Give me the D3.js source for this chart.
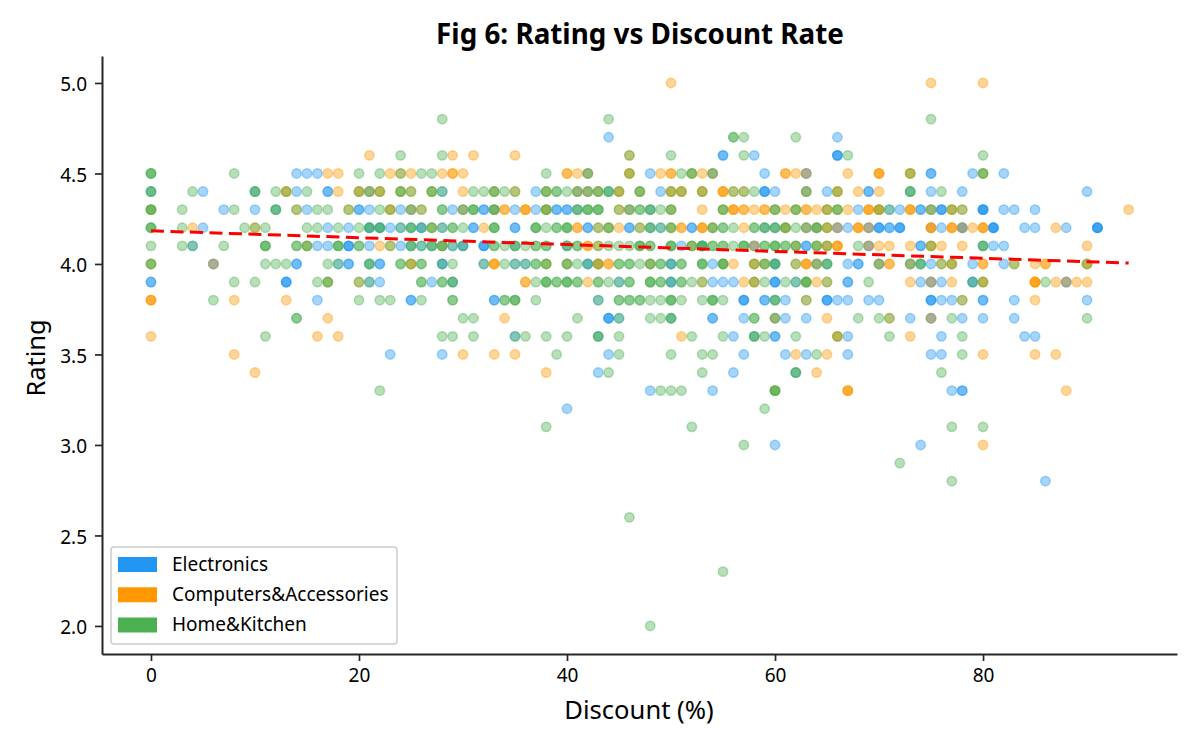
<!DOCTYPE html>
<html>
<head>
<meta charset="utf-8">
<script src="https://cdn.jsdelivr.net/npm/d3@7"></script>
<style>
  html, body { margin: 0; padding: 0; background: #fff; }
  text { font-family: "Noto Sans", "Open Sans", sans-serif; fill: #000; }
</style>
</head>
<body>
<svg id="chart" width="1200" height="750"></svg>
<script>
// Rows of [rating, discounts]; a repeated discount means several products share that spot.
const electronicsRows = [
  [4.7, [44,66]],
  [4.6, [55,55,58,66,66,66]],
  [4.5, [14,15,16,42,48,54,59,63,63,75,75,79,82]],
  [4.4, [0,5,10,14,17,17,21,28,37,41,42,44,49,59,59,59,60,63,65,69,69,73,75,78,90]],
  [4.3, [7,10,12,15,20,20,21,24,25,29,30,32,32,33,35,37,39,39,40,40,41,46,48,68,71,72,74,74,75,76,76,76,80,80,80,80,82,83,85]],
  [4.2, [5,17,19,21,21,22,22,23,24,25,26,26,28,31,31,35,35,42,42,46,46,48,49,52,52,59,60,63,64,66,66,67,69,69,70,70,70,71,71,72,72,72,75,76,78,78,78,81,81,81,81,84,85,88,91,91,91,91]],
  [4.1, [4,16,17,19,19,19,21,24,25,26,27,28,29,30,30,32,32,32,35,40,51,53,53,58,58,63,63,69,69,74,74,80,81,82]],
  [4.0, [6,6,14,14,18,19,19,21,22,22,28,28,32,35,36,42,42,50,50,54,60,60,64,65,67,68,68,70,73,74,75,79,82]],
  [3.9, [0,0,13,13,13,21,22,27,29,45,50,50,54,55,56,60,60,60,62,67,67,74,75,75,76,79,79,88,88]],
  [3.8, [16,25,25,33,33,43,57,57,57,59,59,60,61,65,65,65,66,67,69,70,75,75,75,76,77,80,80,83,90]],
  [3.7, [44,44,44,45,50,54,54,57,60,61,63,73,75,75,78,80,83]],
  [3.6, [35,43,56,58,60,60,67,76,84,85]],
  [3.5, [23,28,44,57,61,63,67,75,76]],
  [3.4, [43,56,62]],
  [3.3, [48,54,77,78,78]],
  [3.2, [40]],
  [3.0, [60,74]],
  [2.8, [86]]
];

const computersRows = [
  [5.0, [50,75,80]],
  [4.6, [21,29,31,35,46]],
  [4.5, [17,18,23,24,25,28,29,29,30,40,40,41,42,46,46,49,50,50,52,53,54,61,61,62,63,67,70,70,70,73,73,80]],
  [4.4, [13,13,18,20,20,21,22,22,24,25,27,30,33,35,38,41,42,43,45,45,47,50,50,51,51,53,53,55,55,55,56,57,63,66,66,68,70]],
  [4.3, [0,14,19,23,23,25,26,30,33,34,34,36,36,36,38,38,45,46,50,53,55,56,56,56,57,57,58,59,59,60,61,62,63,63,64,65,65,66,67,69,69,69,70,70,70,73,73,73,75,77,77,78,94]],
  [4.2, [4,10,27,32,41,41,43,44,45,47,50,51,51,53,53,53,54,57,61,61,63,64,65,65,66,68,68,68,69,75,75,75,77,77,77,78,79,80,80,80,87]],
  [4.1, [15,22,23,28,42,42,43,52,58,62,64,65,65,66,66,66,69,70,71,73,75,75,76,78,90]],
  [4.0, [0,6,25,25,33,33,33,38,40,43,43,43,44,44,48,55,56,58,58,59,62,63,63,63,64,70,71,71,73,76,77,77,80,80,83,85,86,86,90,90]],
  [3.9, [17,20,36,36,42,53,57,58,58,63,64,65,73,75,77,80,80,85,85,85,85,87,88,89,90]],
  [3.8, [0,0,0,8,13,63,78,85]],
  [3.7, [17,34,60,65,71,75]],
  [3.6, [0,16,18,51,66,66,73]],
  [3.5, [8,30,33,35,62,65,80,85,87]],
  [3.4, [10,38,64]],
  [3.3, [60,67,67,67,88]],
  [3.0, [80]]
];

const homeKitchenRows = [
  [4.8, [28,44,75]],
  [4.7, [56,56,57,62]],
  [4.6, [24,28,46,50,57,67,80]],
  [4.5, [0,0,0,8,20,22,24,26,27,38,42,46,51,52,52,54,73,80,80]],
  [4.4, [0,0,4,10,10,12,13,15,20,21,22,24,24,25,27,27,28,31,32,33,33,34,35,38,38,39,39,40,41,42,43,43,44,44,45,47,47,50,51,53,56,57,58,63,66,73,73,76]],
  [4.3, [0,0,0,3,8,12,12,14,16,17,19,22,23,25,26,28,28,30,31,31,31,33,33,38,38,41,41,42,42,42,43,43,43,45,46,47,47,48,48,49,50,50,55,55,60,60,62,62,65,66,66,70,71,75,77,78]],
  [4.2, [0,0,0,3,9,10,11,15,16,18,20,21,21,22,22,24,25,25,26,27,27,28,29,29,30,33,33,33,37,37,37,38,39,39,40,40,40,43,44,44,47,48,48,49,50,50,54,54,55,55,56,58,58,59,59,60,60,61,61,62,63,64,64,65]],
  [4.1, [0,3,4,7,11,11,11,14,14,15,15,18,18,18,20,20,23,25,25,26,27,27,28,28,29,30,33,33,34,35,35,36,37,37,38,38,40,40,41,41,43,44,45,46,47,47,47,48,48,50,50,50,52,52,53,53,53,54,54,55,55,56,57,57,57,59,59,60,60,60,61,61,62,62,64,64,65,68,75,80,80]],
  [4.0, [0,0,11,12,13,17,18,21,21,24,24,25,26,26,28,29,32,34,35,36,37,37,38,38,40,40,41,42,43,45,45,46,46,47,48,48,49,49,50,51,51,53,53,53,55,55,55,58,59,59,60,60,62,64,65,65,70,73,74,74,76,77,83,90]],
  [3.9, [8,10,16,17,17,20,21,26,26,28,28,29,29,37,38,38,38,39,39,40,40,40,41,41,43,43,44,45,46,46,48,48,48,49,49,50,51,51,52,53,58,59,61,62,63,63,63,65,69,79,80,86]],
  [3.8, [6,20,22,23,26,29,29,34,34,35,35,35,37,43,45,45,46,46,47,47,48,49,50,50,50,51,53,54,54,54,55,60,60,63,78]],
  [3.7, [14,14,30,31,41,45,48,49,50,50,58,58,60,68,70,71,77,90]],
  [3.6, [11,28,29,31,35,36,38,40,43,43,45,52,55,58,58,59,62,66,71,78]],
  [3.5, [39,45,50,53,54,64,78]],
  [3.4, [44,53,62,62,76]],
  [3.3, [22,49,50,51,60,60,60]],
  [3.2, [59]],
  [3.1, [38,52,77,80]],
  [3.0, [57]],
  [2.9, [72]],
  [2.8, [77]],
  [2.6, [46]],
  [2.3, [55]],
  [2.0, [48]]
];

const categoryNames = ["Electronics", "Computers&Accessories", "Home&Kitchen"];
const categoryColors = ["#2196F3", "#FF9800", "#4CAF50"];
const categoryRows = [electronicsRows, computersRows, homeKitchenRows];

const trendDiscount = [0, 94];
const trendRating = [4.183, 4.005];

const xTickValues = [0, 20, 40, 60, 80];
const yTickValues = [2.0, 2.5, 3.0, 3.5, 4.0, 4.5, 5.0];

const plot = { left: 102, right: 1177, top: 56, bottom: 654 };
const x = d3.scaleLinear().domain([-4.71, 98.65]).range([plot.left, plot.right]);
const y = d3.scaleLinear().domain([1.845, 5.149]).range([plot.bottom, plot.top]);

const svg = d3.select("#chart");

// Scatter layers, one per category, in legend order
categoryRows.forEach((rows, i) => {
  const points = rows.flatMap(([rating, discounts]) => discounts.map(d => ({ d, rating })));
  svg.append("g")
    .selectAll("circle")
    .data(points)
    .join("circle")
    .attr("cx", p => x(p.d))
    .attr("cy", p => y(p.rating))
    .attr("r", 4.7)
    .attr("fill", categoryColors[i])
    .attr("fill-opacity", 0.4)
    .attr("stroke", categoryColors[i])
    .attr("stroke-opacity", 0.4)
    .attr("stroke-width", 1.5);
});

// Linear trend across all products
svg.append("path")
  .datum(trendDiscount.map((d, i) => [d, trendRating[i]]))
  .attr("fill", "none")
  .attr("stroke", "#ff0000")
  .attr("stroke-width", 3)
  .attr("stroke-dasharray", "13,6.5")
  .attr("d", d3.line().x(p => x(p[0])).y(p => y(p[1])));

// Axes with only the left and bottom spines
const xAxis = svg.append("g")
  .attr("transform", `translate(0,${plot.bottom})`)
  .call(d3.axisBottom(x).tickValues(xTickValues).tickFormat(d3.format("d")).tickSize(7).tickSizeOuter(0).tickPadding(8));
const yAxis = svg.append("g")
  .attr("transform", `translate(${plot.left},0)`)
  .call(d3.axisLeft(y).tickValues(yTickValues).tickFormat(d3.format(".1f")).tickSize(7).tickSizeOuter(0).tickPadding(8));

[xAxis, yAxis].forEach(axis => {
  axis.selectAll("path.domain").attr("stroke", "#262626").attr("stroke-width", 2);
  axis.selectAll(".tick line").attr("stroke", "#262626").attr("stroke-width", 1.7);
  axis.selectAll("text").style("font-size", "19px").style("font-family", '"Noto Sans", sans-serif');
});
yAxis.selectAll("text").attr("dy", "0.42em");

svg.append("text")
  .attr("x", 640).attr("y", 44)
  .attr("text-anchor", "middle")
  .style("font-size", "27.8px").style("font-weight", 700)
  .text("Fig 6: Rating vs Discount Rate");

svg.append("text")
  .attr("x", 639).attr("y", 719)
  .attr("text-anchor", "middle")
  .style("font-size", "25.6px")
  .text("Discount (%)");

svg.append("text")
  .attr("transform", "translate(45,358) rotate(-90)")
  .attr("text-anchor", "middle")
  .style("font-size", "25.4px")
  .text("Rating");

// Legend box with colour swatches
const legend = svg.append("g");
legend.append("rect")
  .attr("x", 111).attr("y", 547)
  .attr("width", 286).attr("height", 97)
  .attr("rx", 3)
  .attr("fill", "#fff").attr("fill-opacity", 0.8)
  .attr("stroke", "#cccccc").attr("stroke-width", 1.5);

const legendRowY = d3.scalePoint().domain(categoryNames).range([564.5, 625]);
categoryNames.forEach((name, i) => {
  legend.append("rect")
    .attr("x", 118).attr("y", legendRowY(name) - 7.5)
    .attr("width", 39).attr("height", 15)
    .attr("fill", categoryColors[i]);
  legend.append("text")
    .attr("x", 172).attr("y", legendRowY(name) + 6)
    .style("font-size", "19px")
    .text(name);
});
</script>
</body>
</html>
